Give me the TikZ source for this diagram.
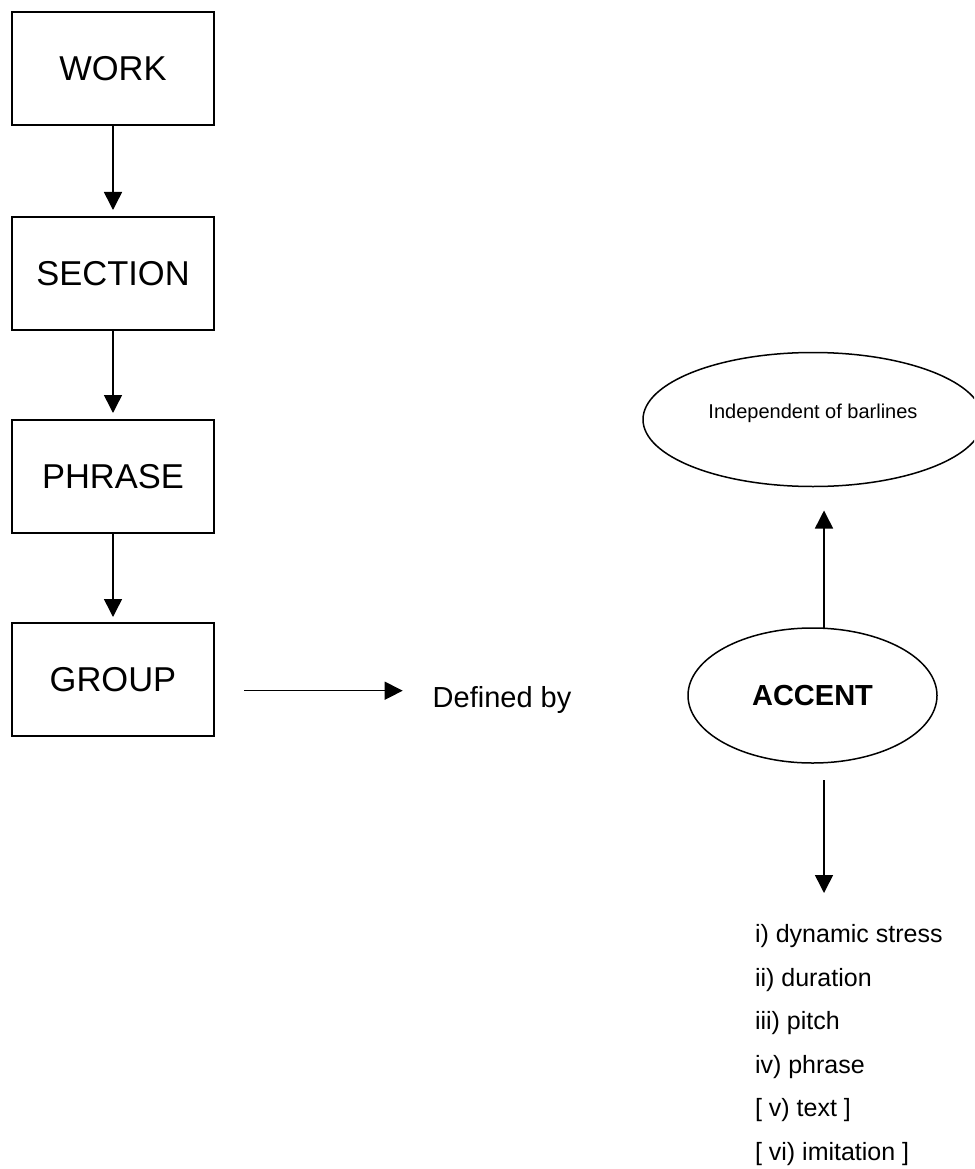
\documentclass[tikz,border=0pt]{standalone}
\usepackage{fontspec}
\setmainfont{Liberation Sans}
\usetikzlibrary{arrows.meta,shapes.geometric}
\begin{document}
\begin{tikzpicture}[x=1pt,y=-1pt,
  every node/.style={inner sep=0pt,outer sep=0pt},
  levelbox/.style={draw,line width=1.6pt,minimum width=202pt,minimum height=113pt,
    font=\fontsize{34.5}{40}\selectfont},
  oval/.style={draw,ellipse,line width=1.5pt},
  arr/.style={line width=1.5pt,-{Triangle[length=18pt,width=18pt]}},
  listitem/.style={anchor=base west,font=\fontsize{25}{30}\selectfont}
]
\useasboundingbox (0,0) rectangle (974,1169);
\clip (0,0) rectangle (974,1169);

% left column
\node[levelbox] (work) at (113,68.5) {WORK};
\node[levelbox] (section) at (113,273.5) {SECTION};
\node[levelbox] (phrase) at (113,476.5) {PHRASE};
\node[levelbox] (group) at (113,679.5) {GROUP};

\draw[arr,shorten >=7pt] (work) -- (section);
\draw[arr,shorten >=7pt] (section) -- (phrase);
\draw[arr,shorten >=6pt] (phrase) -- (group);

% defined by
\node[anchor=base west,font=\fontsize{29}{34}\selectfont] (defby) at (432.7,707) {Defined by};
\coordinate (gstart) at (244,690.7);
\draw[arr] (gstart) -- ([xshift=-30pt]gstart -| defby.west);

% ellipses
\node[oval,minimum width=340pt,minimum height=134pt] (indep) at (813,419.5) {};
\node[anchor=base,font=\fontsize{20}{24}\selectfont] (indeptext) at (813,418) {Independent of barlines};
\node[oval,minimum width=249pt,minimum height=135pt,font=\fontsize{29}{34}\selectfont\bfseries] (accent) at (812.5,695.5) {ACCENT};

\draw[arr,shorten >=24pt] ([xshift=11.5pt]accent.north) -- ([xshift=11pt]indep.south);

\coordinate (ltip) at (824,893);
\draw[arr,shorten <=17pt] ([xshift=11.5pt]accent.south) -- (ltip);

% list
\node[listitem] (l1) at (755,942.7) {i) dynamic stress};
\node[listitem] (l2) at (755,986.2) {ii) duration};
\node[listitem] (l3) at (755,1029.7) {iii) pitch};
\node[listitem] (l4) at (755,1073.2) {iv) phrase};
\node[listitem] (l5) at (755,1116.7) {[ v) text ]};
\node[listitem] (l6) at (755,1160.2) {[ vi) imitation ]};
\end{tikzpicture}
\end{document}
